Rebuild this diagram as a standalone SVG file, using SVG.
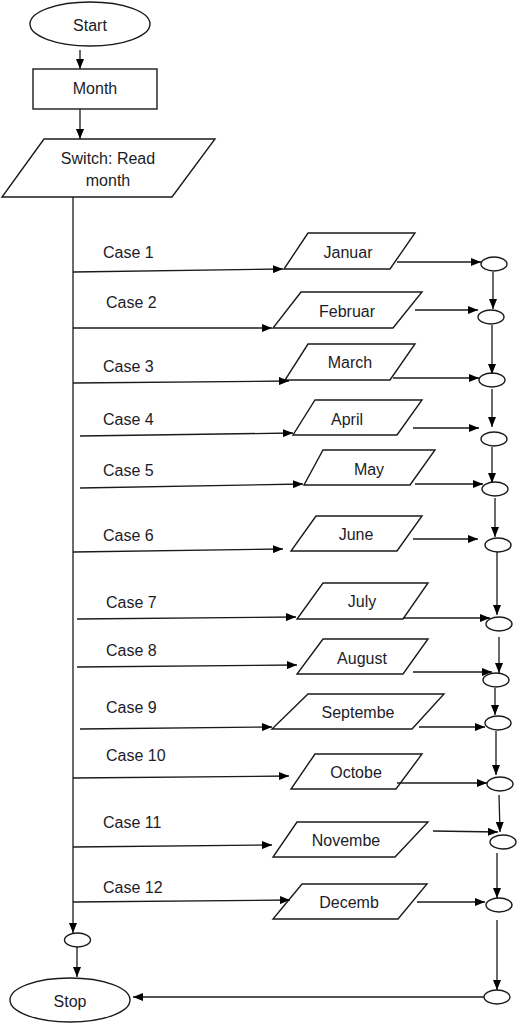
<svg xmlns="http://www.w3.org/2000/svg" width="519" height="1024" viewBox="0 0 519 1024">
<style>
.s{fill:#fff;stroke:#1a1a1a;stroke-width:1.4}
.c{fill:none;stroke:#1a1a1a;stroke-width:1.3}
.t{font-family:"Liberation Sans",Arial,sans-serif;font-size:16px;fill:#1c1c28;text-anchor:middle;dominant-baseline:central}
.l{font-family:"Liberation Sans",Arial,sans-serif;font-size:16px;fill:#1c1c28;text-anchor:start;dominant-baseline:central}
</style>
<defs>
<marker id="a" markerUnits="userSpaceOnUse" markerWidth="10" markerHeight="8" refX="10" refY="4" orient="auto">
<path d="M0,0 L10,4 L0,8 z" fill="#000"/>
</marker>
</defs>
<rect width="519" height="1024" fill="#fff"/>
<g id="start"><ellipse class="s" cx="90" cy="24" rx="60" ry="22"/><text class="t" x="90" y="25">Start</text></g>
<g id="month"><rect class="s" x="33" y="69" width="124" height="40"/><text class="t" x="95" y="88">Month</text></g>
<g id="switch"><polygon class="s" points="44,139 215,139 172,197 2,197"/><text class="t" x="108" y="158">Switch: Read</text><text class="t" x="108" y="180">month</text></g>
<g id="stop"><ellipse class="s" cx="70" cy="1000" rx="60" ry="22"/><text class="t" x="70" y="1001">Stop</text></g>
<g id="join-left"><ellipse class="s" cx="77.5" cy="940" rx="13" ry="7"/></g>
<g id="join-end"><ellipse class="s" cx="497" cy="997" rx="13" ry="7"/></g>

<g id="labels">
<text class="l" x="103" y="252">Case 1</text>
<text class="l" x="106" y="302">Case 2</text>
<text class="l" x="103" y="366">Case 3</text>
<text class="l" x="103" y="419">Case 4</text>
<text class="l" x="103" y="470">Case 5</text>
<text class="l" x="103" y="535">Case 6</text>
<text class="l" x="106" y="602">Case 7</text>
<text class="l" x="106" y="650">Case 8</text>
<text class="l" x="106" y="707">Case 9</text>
<text class="l" x="106" y="755">Case 10</text>
<text class="l" x="103" y="822">Case 11</text>
<text class="l" x="103" y="887">Case 12</text>
</g>

<g id="m1"><polygon class="s" points="308,233 415,233 390,269 284,269"/><text class="t" x="348" y="252">Januar</text></g>
<g id="m2"><polygon class="s" points="301,292 422,292 393,328 273,328"/><text class="t" x="347" y="311">Februar</text></g>
<g id="m3"><polygon class="s" points="308,344 415,344 390,380 285,380"/><text class="t" x="350" y="362">March</text></g>
<g id="m4"><polygon class="s" points="315,400 422,400 397,435 293,435"/><text class="t" x="347" y="419">April</text></g>
<g id="m5"><polygon class="s" points="323,450 435,450 410,485 304,485"/><text class="t" x="369" y="469">May</text></g>
<g id="m6"><polygon class="s" points="316,516 422,516 397,551 291,551"/><text class="t" x="356" y="534">June</text></g>
<g id="m7"><polygon class="s" points="323,583 428,583 403,619 297,619"/><text class="t" x="362" y="601">July</text></g>
<g id="m8"><polygon class="s" points="323,639 428,639 403,674 297,674"/><text class="t" x="362" y="658">August</text></g>
<g id="m9"><polygon class="s" points="308,694 444,694 412,729 272,729"/><text class="t" x="358" y="712">Septembe</text></g>
<g id="m10"><polygon class="s" points="315,754 422,754 396,789 291,789"/><text class="t" x="356" y="772">Octobe</text></g>
<g id="m11"><polygon class="s" points="297,822 428,822 395,857 273,857"/><text class="t" x="346" y="840">Novembe</text></g>
<g id="m12"><polygon class="s" points="302,884 427,884 398,919 273,919"/><text class="t" x="349" y="902">Decemb</text></g>

<g id="joins">
<ellipse class="s" cx="494" cy="264" rx="13" ry="7"/>
<ellipse class="s" cx="491" cy="317" rx="13" ry="7"/>
<ellipse class="s" cx="492" cy="380" rx="13" ry="7"/>
<ellipse class="s" cx="494" cy="439" rx="13" ry="7"/>
<ellipse class="s" cx="495" cy="489" rx="13" ry="7"/>
<ellipse class="s" cx="498" cy="545" rx="13" ry="7"/>
<ellipse class="s" cx="499" cy="624" rx="13" ry="7"/>
<ellipse class="s" cx="496" cy="680" rx="13" ry="7"/>
<ellipse class="s" cx="498" cy="723" rx="13" ry="7"/>
<ellipse class="s" cx="500" cy="784" rx="13" ry="7"/>
<ellipse class="s" cx="503" cy="842" rx="13" ry="7"/>
<ellipse class="s" cx="499" cy="905" rx="13" ry="7"/>
</g>

<g id="connectors" class="c" marker-end="url(#a)">
<line x1="80" y1="50" x2="80" y2="69"/>
<line x1="80" y1="109" x2="80" y2="139"/>
<line x1="73" y1="197" x2="73" y2="933"/>
<line x1="77" y1="947" x2="77" y2="977"/>
<line x1="484" y1="997" x2="133" y2="997"/>
<line x1="497" y1="920" x2="497" y2="990"/>

<line x1="73" y1="272" x2="283" y2="269"/>
<line x1="73" y1="328" x2="272" y2="328"/>
<line x1="73" y1="383" x2="289" y2="381"/>
<line x1="80" y1="436" x2="293" y2="433"/>
<line x1="80" y1="488" x2="303" y2="484"/>
<line x1="73" y1="552" x2="283" y2="549"/>
<line x1="77" y1="619" x2="296" y2="617"/>
<line x1="77" y1="667" x2="297" y2="665"/>
<line x1="80" y1="729" x2="272" y2="727"/>
<line x1="73" y1="778" x2="289" y2="776"/>
<line x1="73" y1="847" x2="272" y2="845"/>
<line x1="73" y1="902" x2="290" y2="900"/>

<line x1="397" y1="262" x2="481" y2="262"/>
<line x1="415" y1="310" x2="478" y2="310"/>
<line x1="393" y1="378" x2="479" y2="378"/>
<line x1="413" y1="428" x2="479" y2="428"/>
<line x1="415" y1="484" x2="483" y2="484"/>
<line x1="413" y1="539" x2="478" y2="539"/>
<line x1="403" y1="618" x2="490" y2="618"/>
<line x1="413" y1="672" x2="492" y2="672"/>
<line x1="419" y1="727" x2="485" y2="727"/>
<line x1="397" y1="783" x2="487" y2="783"/>
<line x1="433" y1="831" x2="498" y2="832"/>
<line x1="417" y1="902" x2="485" y2="902"/>

<line x1="493" y1="272" x2="493" y2="309"/>
<line x1="492" y1="325" x2="492" y2="374"/>
<line x1="492" y1="389" x2="492" y2="427"/>
<line x1="492" y1="447" x2="492" y2="483"/>
<line x1="495" y1="498" x2="495" y2="537"/>
<line x1="497" y1="552" x2="497" y2="615"/>
<line x1="499" y1="637" x2="499" y2="673"/>
<line x1="495" y1="688" x2="495" y2="715"/>
<line x1="496" y1="731" x2="496" y2="775"/>
<line x1="499" y1="795" x2="500" y2="832"/>
<line x1="497" y1="853" x2="497" y2="898"/>
</g>
</svg>
